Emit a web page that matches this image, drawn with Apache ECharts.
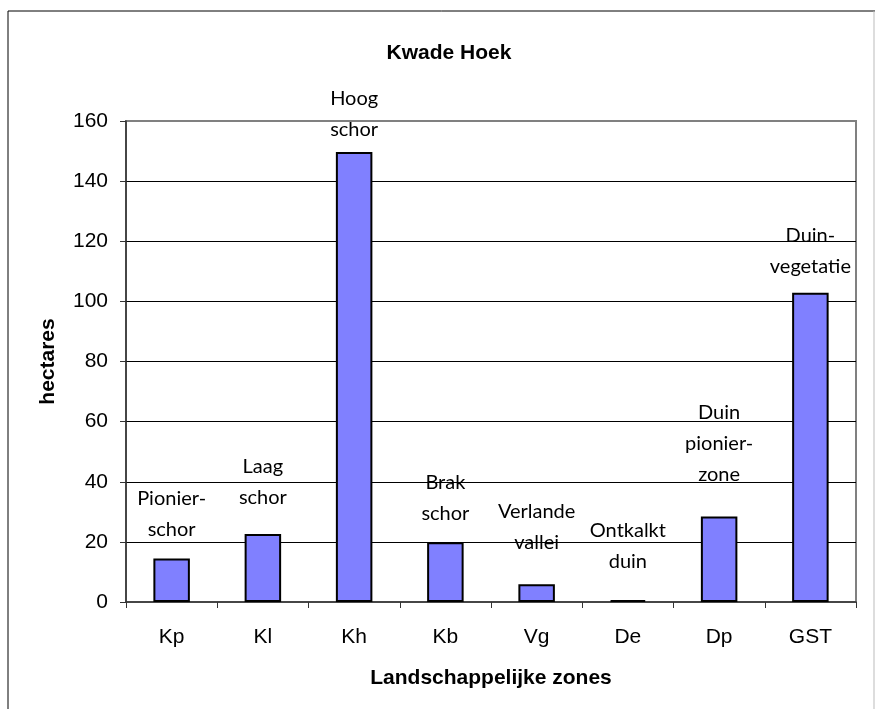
<!DOCTYPE html>
<html>
<head>
<meta charset="utf-8">
<script src="https://cdn.jsdelivr.net/npm/echarts@6/dist/echarts.min.js"></script>
<style>
  html, body { margin: 0; padding: 0; background: #fff; }
  #chart { width: 877px; height: 709px; }
</style>
</head>
<body>
<div id="chart"></div>
<script>
// zones (x axis)
var zones = ['Kp', 'Kl', 'Kh', 'Kb', 'Vg', 'De', 'Dp', 'GST'];
// hectares per zone
var hectares = [14.5, 22.6, 149.7, 19.9, 5.9, 0.6, 28.4, 102.9];
// text written above each bar
var zoneNames = ['Pionier-\nschor', 'Laag\nschor', 'Hoog\nschor', 'Brak\nschor',
                 'Verlande\nvallei', 'Ontkalkt\nduin', 'Duin\npionier-\nzone', 'Duin-\nvegetatie'];
// y axis ticks
var yTicks = [0, 20, 40, 60, 80, 100, 120, 140, 160];

// gap between bar top and its text (the text boxes were placed by hand)
var labelGap = [13, 21, 7, 13, 26, 23, 27, 11];

var myChart = echarts.init(document.getElementById('chart'));

var barData = [];
for (var i = 0; i < hectares.length; i++) {
  barData.push({
    value: hectares[i],
    label: { distance: labelGap[i] }
  });
}

var axisFont = { fontFamily: 'Liberation Sans', fontSize: 21, color: '#000' };
var boldFont = { fontFamily: 'Liberation Sans', fontSize: 21, fontWeight: 'bold', color: '#000' };

var option = {
  animation: false,
  backgroundColor: '#fff',
  title: {
    text: 'Kwade Hoek',
    left: 444,
    textAlign: 'center',
    top: 38,
    textStyle: boldFont
  },
  graphic: [
    { type: 'line', shape: { x1: 8, y1: 11, x2: 875, y2: 11 }, style: { stroke: '#000', lineWidth: 1 } },
    { type: 'line', shape: { x1: 8, y1: 11, x2: 8, y2: 709 }, style: { stroke: '#000', lineWidth: 1 } },
    { type: 'line', shape: { x1: 874, y1: 11, x2: 874, y2: 709 }, style: { stroke: '#bbb', lineWidth: 1 } }
  ],
  grid: {
    left: 126, right: 21, top: 121, bottom: 107,
    show: true, borderColor: '#808080', borderWidth: 2, backgroundColor: 'transparent'
  },
  xAxis: {
    type: 'category',
    data: zones,
    name: 'Landschappelijke zones',
    nameLocation: 'middle',
    nameGap: 66,
    nameTextStyle: boldFont,
    axisLine: { lineStyle: { color: '#333', width: 1.5 } },
    axisTick: { show: true, alignWithLabel: false, length: 6, lineStyle: { color: '#333' } },
    axisLabel: Object.assign({ margin: 25 }, axisFont)
  },
  yAxis: {
    type: 'value',
    min: yTicks[0],
    max: yTicks[yTicks.length - 1],
    interval: yTicks[1] - yTicks[0],
    name: 'hectares',
    nameLocation: 'middle',
    nameGap: 67,
    nameTextStyle: boldFont,
    axisLine: { show: true, lineStyle: { color: '#333', width: 1.5 } },
    axisTick: { show: true, length: 6, lineStyle: { color: '#333' } },
    axisLabel: Object.assign({ margin: 18 }, axisFont),
    splitLine: { show: true, showMinLine: false, showMaxLine: false, lineStyle: { color: '#000', width: 1 } }
  },
  series: [{
    type: 'bar',
    data: barData,
    barWidth: '40%',
    itemStyle: { color: '#8080ff', borderColor: '#000', borderWidth: 2 },
    label: {
      show: true,
      position: 'top',
      formatter: function (p) { return zoneNames[p.dataIndex]; },
      fontFamily: 'Lato',
      fontSize: 20,
      lineHeight: 31,
      color: '#000'
    }
  }]
};

myChart.setOption(option);
</script>
</body>
</html>
